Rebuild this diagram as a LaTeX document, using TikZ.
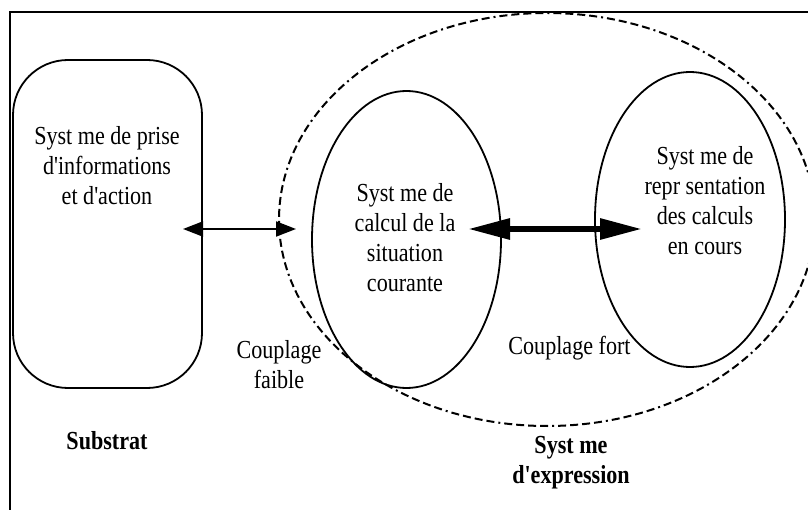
\documentclass[tikz,border=0pt]{standalone}
\usepackage{fontspec}
\setmainfont{Liberation Serif}[FakeStretch=0.85,Ligatures=TeXOff]
\usetikzlibrary{shapes.geometric,arrows.meta}
\begin{document}
\begin{tikzpicture}[x=1pt,y=-1pt,
  every node/.style={font=\fontsize{26}{30}\selectfont},
  outline/.style={draw,line width=1.8pt,inner sep=0pt},
  txt/.style={align=center,inner sep=0pt},
  boundary/.style={draw,ellipse,inner sep=0pt,line width=2pt,
    dash pattern=on 8pt off 4pt on 8pt off 4pt on 8pt off 4pt on 8pt off 4pt on 2pt off 4pt},
  weak/.style={line width=2pt,
    {Triangle[length=20pt,width=15pt]}-{Triangle[length=20pt,width=15pt]}},
  strong/.style={line width=6pt,
    {Triangle[length=42pt,width=20pt]}-{Triangle[length=42pt,width=20pt]}},
]
\useasboundingbox (0,0) rectangle (808,510);
\clip (0,0) rectangle (808,510);

% outer frame
\draw[line width=1.8pt] (10,520) -- (10,12) -- (820,12);

% substrate block
\node[outline,rounded corners=55pt,minimum width=189pt,minimum height=328pt]
  (sub) at (107.5,224) {};
\node[txt] (subtxt) at (107,166) {Syst me de prise\\d'informations\\et d'action};

% expression system boundary
\node[boundary,minimum width=536pt,minimum height=413pt] (expr) at (547,219.5) {};

% calculation ellipse
\node[outline,ellipse,minimum width=189pt,minimum height=297pt]
  (calc) at (406.5,239.5) {};
\node[txt] (calctxt) at (405,238) {Syst me de\\calcul de la\\situation\\courante};

% representation ellipse
\node[outline,ellipse,minimum width=190pt,minimum height=295pt]
  (repr) at (690,219.5) {};
\node[txt] (reprtxt) at (705,201) {Syst me de\\repr sentation\\des calculs\\en cours};

% couplings
\coordinate (w1) at (183,229);
\coordinate (w2) at (296,229);
\coordinate (s1) at (468,229);
\coordinate (s2) at (642,229);
\draw[weak] (w1) -- (w2);
\draw[strong] (s1) -- (s2);

\node[txt] (weaklbl) at (279,365) {Couplage\\faible};
\node[txt,anchor=base] (stronglbl) at (569.5,355) {Couplage fort};

% captions
\node[txt,anchor=base] (subcap) at (107,449) {\textbf{Substrat}};
\node[txt] (exprcap) at (571,463) {\textbf{Syst me}\\\textbf{d'expression}};
\end{tikzpicture}
\end{document}
